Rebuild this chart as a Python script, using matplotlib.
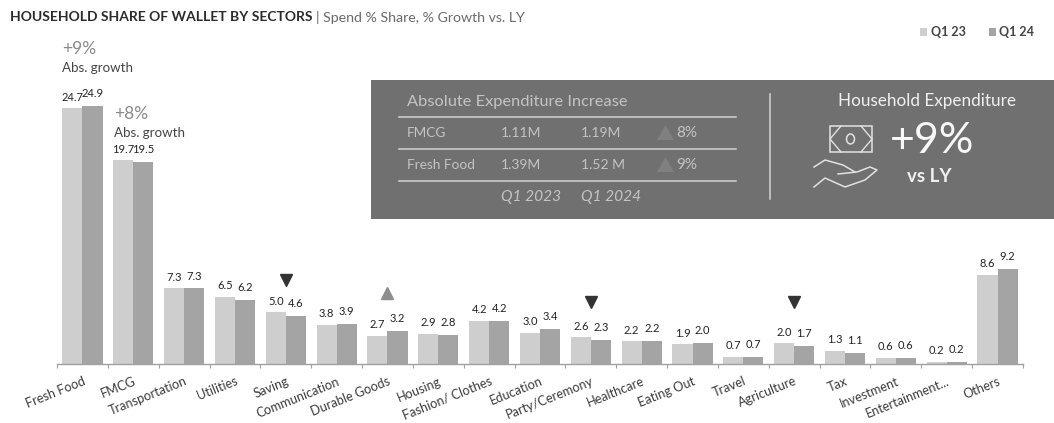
import numpy as np
import matplotlib
matplotlib.use('Agg')
import matplotlib.pyplot as plt
from matplotlib.patches import Rectangle, Ellipse, Polygon

plt.rcParams['font.family'] = ['Lato', 'DejaVu Sans']

sectors = ['Fresh Food', 'FMCG', 'Transportation', 'Utilities', 'Saving', 'Communication',
           'Durable Goods', 'Housing', 'Fashion/ Clothes', 'Education', 'Party/Ceremony',
           'Healthcare', 'Eating Out', 'Travel', 'Agriculture', 'Tax', 'Investment',
           'Entertainment...', 'Others']
q1_23 = [24.7, 19.7, 7.3, 6.5, 5.0, 3.8, 2.7, 2.9, 4.2, 3.0, 2.6, 2.2, 1.9, 0.7, 2.0, 1.3, 0.6, 0.2, 8.6]
q1_24 = [24.9, 19.5, 7.3, 6.2, 4.6, 3.9, 3.2, 2.8, 4.2, 3.4, 2.3, 2.2, 2.0, 0.7, 1.7, 1.1, 0.6, 0.2, 9.2]

# sector name -> direction of the change marker and its height on the value axis
flags = {'Saving': ('down', 8.1), 'Durable Goods': ('up', 6.9),
         'Party/Ceremony': ('down', 6.0), 'Agriculture': ('down', 6.0)}

table_rows = [('FMCG', '1.11M', '1.19M', '8%'), ('Fresh Food', '1.39M', '1.52 M', '9%')]
table_cols = ['Q1 2023', 'Q1 2024']

W, H = 1054, 423
C23, C24 = '#cecece', '#a4a4a4'
PANEL = '#707070'
PANEL_TXT = '#c4c4c4'

fig = plt.figure(figsize=(W / 100, H / 100), dpi=100)

####bars
top, base = 20, 364
ax = fig.add_axes([57 / W, 1 - base / H, (1023 - 57) / W, (base - top) / H])
x = np.arange(len(sectors))
bw = 0.395
ax.bar(x - bw / 2, q1_23, bw, color=C23)
ax.bar(x + bw / 2, q1_24, bw, color=C24)
ax.set_xlim(-0.5, len(sectors) - 0.5)
ax.set_ylim(0, (base - top) / 10.35)
ax.patch.set_alpha(0)
for s in ['top', 'left', 'right']:
    ax.spines[s].set_visible(False)
ax.spines['bottom'].set_color('#a0a0a0')
ax.spines['bottom'].set_linewidth(1.0)
ax.set_yticks([])
ax.set_xticks(x)
ax.set_xticklabels(sectors, rotation=22, ha='right', rotation_mode='anchor', fontsize=9.2, color='#3c3c3c')
ax.tick_params(axis='x', which='major', length=0, pad=8)
ax.set_xticks(np.arange(len(sectors) + 1) - 0.5, minor=True)
ax.tick_params(axis='x', which='minor', length=3, width=0.8, color='#a0a0a0')

for i in x:
    ax.annotate(f'{q1_23[i]:.1f}', (i - bw / 2, q1_23[i]), xytext=(0, 4), textcoords='offset points',
                ha='center', va='bottom', fontsize=8, color='#222222')
    ax.annotate(f'{q1_24[i]:.1f}', (i + bw / 2, q1_24[i]), xytext=(0, 5), textcoords='offset points',
                ha='center', va='bottom', fontsize=8, color='#222222')

for name, (way, h) in flags.items():
    i = sectors.index(name)
    if way == 'down':
        ax.plot(i, h, marker='v', ms=8.5, color='#333333', ls='none')
    else:
        ax.plot(i, h, marker='^', ms=8.5, color='#8e8e8e', ls='none')

####everything else is laid out in pixels
ov = fig.add_axes([0, 0, 1, 1], zorder=5)
ov.set_xlim(0, W)
ov.set_ylim(H, 0)
ov.axis('off')

ov.text(10, 17, 'HOUSEHOLD SHARE OF WALLET BY SECTORS', fontsize=10, fontweight='bold', color='#2b2b2b', va='center')
ov.text(316, 17, '| Spend % Share, % Growth vs. LY', fontsize=10.2, color='#6a6a6a', va='center')

# legend
ov.add_patch(Rectangle((920, 28), 7, 8, color=C23, lw=0))
ov.text(931, 32, 'Q1 23', fontsize=9, fontweight='bold', color='#444444', va='center')
ov.add_patch(Rectangle((989, 28), 7, 8, color=C24, lw=0))
ov.text(999, 32, 'Q1 24', fontsize=9, fontweight='bold', color='#444444', va='center')

# growth callouts
ov.text(62, 49, '+9%', fontsize=12.5, color='#8a8a8a', va='center')
ov.text(62, 68, 'Abs. growth', fontsize=9.6, color='#444444', va='center')
ov.text(114, 114, '+8%', fontsize=12.5, color='#8a8a8a', va='center')
ov.text(114, 133, 'Abs. growth', fontsize=9.6, color='#444444', va='center')

# grey panel
ov.add_patch(Rectangle((371, 80), W - 371, 139, color=PANEL, lw=0))
ov.text(407, 102, 'Absolute Expenditure Increase', fontsize=11.8, color=PANEL_TXT, va='center')
for yy in [117, 149, 181]:
    ov.plot([399, 736], [yy, yy], color='#d4d4d4', lw=1.1)
ov.plot([770, 770], [94, 199], color='#d4d4d4', lw=1.1)

for row, yy in zip(table_rows, [133, 165]):
    ov.text(407, yy, row[0], fontsize=9.8, color=PANEL_TXT, va='center')
    ov.text(501, yy, row[1], fontsize=10, color=PANEL_TXT, va='center')
    ov.text(581, yy, row[2], fontsize=10, color=PANEL_TXT, va='center')
    ov.add_patch(Polygon([(657, yy + 7), (674, yy + 7), (665.5, yy - 8)], color='#808080', lw=0))
    ov.text(676, yy, row[3], fontsize=11, color=PANEL_TXT, va='center')
for label, xx in zip(table_cols, [501, 581]):
    ov.text(xx, 197, label, fontsize=11.2, style='italic', color=PANEL_TXT, va='center')

ov.text(927, 101, 'Household Expenditure', fontsize=12.3, color='#f0f0f0', va='center', ha='center')
ov.text(890, 141, '+9%', fontsize=31, color='#f7f7f7', va='center')
ov.text(929, 177, 'vs LY', fontsize=13.5, fontweight='bold', color='#f0f0f0', va='center', ha='center')

# banknote icon
ic = '#e2e2e2'
ov.add_patch(Rectangle((830, 126), 42, 26, fill=False, ec=ic, lw=1.1))
ov.add_patch(Ellipse((850.5, 139), 8, 10, fill=False, ec=ic, lw=1.1))
ov.plot([841, 830, 841], [126, 139, 152], color=ic, lw=1.0)
ov.plot([861, 872, 861], [126, 139, 152], color=ic, lw=1.0)

# open hand icon
ov.plot([814, 825, 843, 855], [167, 160, 165, 172], color=ic, lw=1.1)
ov.plot([814, 825, 845, 865, 877, 870, 857, 838], [187, 178, 187, 180, 170, 167, 172, 174], color=ic, lw=1.1)

fig.savefig('out.png', dpi=100)
